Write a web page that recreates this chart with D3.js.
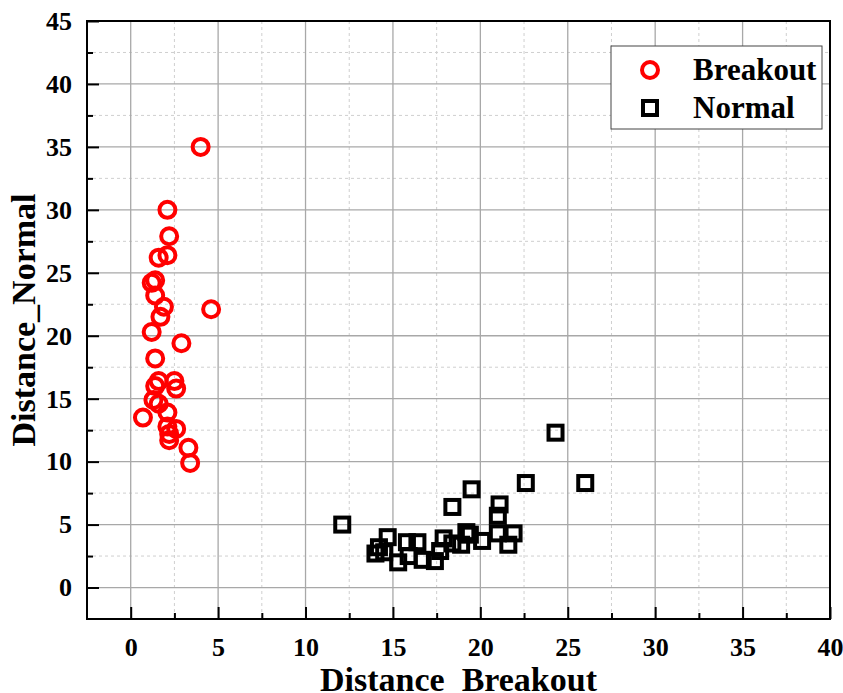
<!DOCTYPE html>
<html>
<head>
<meta charset="utf-8">
<script src="https://cdn.jsdelivr.net/npm/d3@7"></script>
<style>
  html, body { margin: 0; padding: 0; background: #fff; }
  svg { display: block; }
  text { font-family: "Liberation Serif", "Times New Roman", serif; font-weight: bold; fill: #000; }
</style>
</head>
<body>
<svg id="chart" width="843" height="693"></svg>
<script>
// Breakout points (Distance_Breakout, Distance_Normal)
const breakoutX = [4.0, 2.1, 2.2, 2.1, 1.6, 1.4, 1.2, 1.4, 1.9, 1.7, 4.6, 1.2, 2.9, 1.4,
                   1.6, 2.5, 2.6, 1.4, 1.3, 1.6, 0.7, 2.1, 2.6, 2.1, 2.2, 2.2, 3.3, 3.4];
const breakoutY = [35.0, 30.0, 27.9, 26.4, 26.2, 24.4, 24.2, 23.2, 22.3, 21.5, 22.1, 20.3, 19.4, 18.2,
                   16.4, 16.4, 15.8, 16.0, 14.9, 14.6, 13.5, 13.9, 12.6, 12.8, 12.2, 11.7, 11.1, 9.9];

// Normal points
const normalX = [12.1, 14.7, 14.5, 14.0, 14.2, 15.3, 15.9, 15.8, 16.4, 16.7, 17.4, 17.7, 17.9, 18.4,
                 18.4, 18.9, 19.2, 19.5, 20.1, 21.0, 21.0, 21.1, 21.6, 21.9, 22.6, 24.3, 26.0, 19.4];
const normalY = [5.0, 4.0, 2.8, 2.7, 3.2, 2.0, 2.5, 3.6, 3.6, 2.2, 2.1, 2.9, 3.9, 6.4,
                 3.5, 3.4, 4.4, 7.8, 3.7, 4.3, 5.7, 6.6, 3.4, 4.3, 8.3, 12.3, 8.3, 4.2];

const xTicks = [0, 5, 10, 15, 20, 25, 30, 35, 40];
const yTicks = [0, 5, 10, 15, 20, 25, 30, 35, 40, 45];
const xMinor = [2.5, 7.5, 12.5, 17.5, 22.5, 27.5, 32.5, 37.5];
const yMinor = [2.5, 7.5, 12.5, 17.5, 22.5, 27.5, 32.5, 37.5, 42.5];

const seriesNames = ["Breakout", "Normal"];
const seriesColors = ["#ff0000", "#000000"];

const plotL = 87, plotR = 830, plotT = 21, plotB = 619;
const svg = d3.select("#chart");

const x = d3.scaleLinear().domain([-2.5, 40]).range([plotL, plotR]);
const y = d3.scaleLinear().domain([-2.5, 45]).range([plotB, plotT]);

// minor grid (dashed)
const grid = svg.append("g");
grid.selectAll(".vminor").data(xMinor).join("line")
  .attr("x1", d => x(d)).attr("x2", d => x(d)).attr("y1", plotT).attr("y2", plotB)
  .attr("stroke", "#cfcfcf").attr("stroke-width", 1).attr("stroke-dasharray", "3,3");
grid.selectAll(".hminor").data(yMinor).join("line")
  .attr("y1", d => y(d)).attr("y2", d => y(d)).attr("x1", plotL).attr("x2", plotR)
  .attr("stroke", "#cfcfcf").attr("stroke-width", 1).attr("stroke-dasharray", "3,3");
// major grid
grid.selectAll(".vmajor").data(xTicks.filter(d => d < 40)).join("line")
  .attr("x1", d => x(d)).attr("x2", d => x(d)).attr("y1", plotT).attr("y2", plotB)
  .attr("stroke", "#a8a8a8").attr("stroke-width", 1.3);
grid.selectAll(".hmajor").data(yTicks.filter(d => d < 45)).join("line")
  .attr("y1", d => y(d)).attr("y2", d => y(d)).attr("x1", plotL).attr("x2", plotR)
  .attr("stroke", "#a8a8a8").attr("stroke-width", 1.3);

// axes: ticks point inward
const xAxis = d3.axisBottom(x).tickValues(xTicks).tickSize(-12).tickPadding(19).tickFormat(d3.format("d"));
const xAxisMinor = d3.axisBottom(x).tickValues(xMinor).tickSize(-6).tickFormat("");
const yAxis = d3.axisLeft(y).tickValues(yTicks).tickSize(-12).tickPadding(15).tickFormat(d3.format("d"));
const yAxisMinor = d3.axisLeft(y).tickValues(yMinor).tickSize(-6).tickFormat("");

function styleAxis(g) {
  g.select(".domain").remove();
  g.selectAll(".tick line").attr("stroke", "#000").attr("stroke-width", 2);
  g.selectAll(".tick text").attr("font-size", 26).attr("font-family", "'Liberation Serif', 'Times New Roman', serif").attr("font-weight", "bold");
}
svg.append("g").attr("transform", `translate(0,${plotB})`).call(xAxis).call(styleAxis)
  .selectAll(".tick text").attr("dy", "0.71em");
svg.append("g").attr("transform", `translate(0,${plotB})`).call(xAxisMinor).call(styleAxis);
svg.append("g").attr("transform", `translate(${plotL},0)`).call(yAxis).call(styleAxis);
svg.append("g").attr("transform", `translate(${plotL},0)`).call(yAxisMinor).call(styleAxis);

// frame
svg.append("rect").attr("x", plotL).attr("y", plotT).attr("width", plotR - plotL).attr("height", plotB - plotT)
  .attr("fill", "none").attr("stroke", "#000").attr("stroke-width", 2);

// axis titles (the x title sits on the bottom edge of the page)
svg.append("text").attr("x", (plotL + plotR) / 2).attr("y", 691).attr("text-anchor", "middle")
  .attr("font-size", 34).text("Distance_Breakout");
svg.append("text").attr("transform", `translate(35,${(plotT + plotB) / 2}) rotate(-90)`)
  .attr("text-anchor", "middle").attr("font-size", 34).text("Distance_Normal");

// points
const sqSide = 14;
const markStroke = 4;
svg.append("g").selectAll("rect").data(normalX.map((d, i) => [d, normalY[i]])).join("rect")
  .attr("x", d => x(d[0]) - sqSide / 2).attr("y", d => y(d[1]) - sqSide / 2)
  .attr("width", sqSide).attr("height", sqSide)
  .attr("fill", "none").attr("stroke", seriesColors[1]).attr("stroke-width", markStroke);
svg.append("g").selectAll("circle").data(breakoutX.map((d, i) => [d, breakoutY[i]])).join("circle")
  .attr("cx", d => x(d[0])).attr("cy", d => y(d[1])).attr("r", 8)
  .attr("fill", "none").attr("stroke", seriesColors[0]).attr("stroke-width", markStroke);

// legend
const lg = svg.append("g");
lg.append("rect").attr("x", 611).attr("y", 46).attr("width", 211).attr("height", 83)
  .attr("fill", "#fff").attr("stroke", "#444").attr("stroke-width", 1);
lg.append("circle").attr("cx", 650).attr("cy", 70).attr("r", 8)
  .attr("fill", "none").attr("stroke", seriesColors[0]).attr("stroke-width", markStroke);
lg.append("rect").attr("x", 650 - sqSide / 2).attr("y", 108 - sqSide / 2).attr("width", sqSide).attr("height", sqSide)
  .attr("fill", "none").attr("stroke", seriesColors[1]).attr("stroke-width", markStroke);
lg.append("text").attr("x", 693).attr("y", 80).attr("font-size", 31).text(seriesNames[0]);
lg.append("text").attr("x", 693).attr("y", 118).attr("font-size", 31).text(seriesNames[1]);
</script>
</body>
</html>
